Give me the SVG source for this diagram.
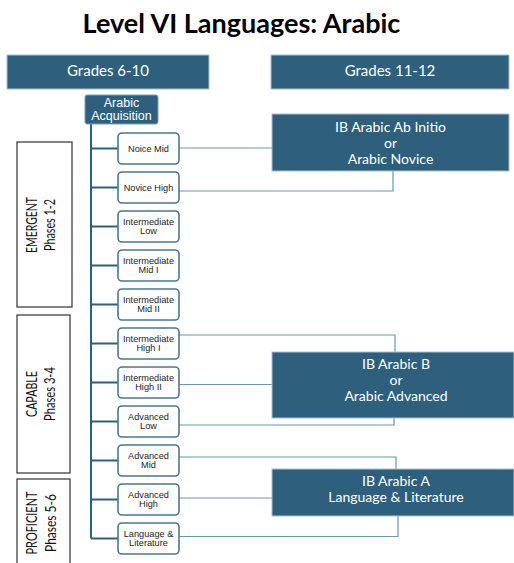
<svg xmlns="http://www.w3.org/2000/svg" width="514" height="563" viewBox="0 0 514 563">
<style>
.title{font-family:Lato,"Open Sans",sans-serif;font-weight:bold;font-size:27px;fill:#000;text-anchor:middle}
.hdr{fill:#2e5f7d;stroke:#a9c1d2;stroke-width:1}
.hdrt{font-family:Lato,"Open Sans",sans-serif;font-size:15px;fill:#fff;text-anchor:middle}
.acq{fill:#2e5f7d;stroke:#7d9fb6;stroke-width:1}
.acqt{font-family:"Liberation Sans",Arial,sans-serif;font-size:12.5px;fill:#fff;text-anchor:middle}
.lvl{fill:#fff;stroke:#4b7594;stroke-width:1.6}
.lvlt{font-family:"Liberation Sans",Arial,sans-serif;font-size:9.2px;fill:#222;text-anchor:middle}
.ph{fill:#fff;stroke:#404040;stroke-width:1.3}
.pht{font-family:Lato,"Open Sans",sans-serif;font-size:15px;fill:#111;text-anchor:middle}
.ib{fill:#2e5f7d;stroke:#a9c1d2;stroke-width:1}
.ibt{font-family:Lato,"Open Sans",sans-serif;font-size:14px;fill:#fff;text-anchor:middle}
.trunk{stroke:#2e5f7d;stroke-width:2;fill:none}
.link{stroke:#6d93ad;stroke-width:1.2;fill:none}
</style>

<text class="title" x="241.5" y="33">Level VI Languages: Arabic</text>

<g id="hdr-grades-6-10"><rect class="hdr" x="7" y="55" width="202" height="34"/><text class="hdrt" x="108" y="75.5">Grades 6-10</text></g>
<g id="hdr-grades-11-12"><rect class="hdr" x="271" y="55" width="238" height="34"/><text class="hdrt" x="390" y="75.5">Grades 11-12</text></g>

<g id="connectors">
  <path class="trunk" d="M91,124 V538.5"/>
  <path class="trunk" d="M91,148.5 H118 M91,187.5 H118 M91,226.5 H118 M91,265.5 H118 M91,304.5 H118 M91,343.5 H118 M91,382.5 H118 M91,421.5 H118 M91,460.5 H118 M91,499.5 H118 M91,538.5 H118"/>
  <path class="link" d="M179,148 H272"/>
  <path class="link" d="M179,191 H393 V171"/>
  <path class="link" d="M179,335 H395 V352"/>
  <path class="link" d="M179,384.5 H272"/>
  <path class="link" d="M179,425 H394 V418"/>
  <path class="link" d="M179,457 H396 V469"/>
  <path class="link" d="M179,498 H272"/>
  <path class="link" d="M179,536.5 H398 V516"/>
</g>

<g id="arabic-acquisition"><rect class="acq" x="85" y="95" width="73" height="29" rx="2"/><text class="acqt" x="121.5" y="107">Arabic</text><text class="acqt" x="121.5" y="120">Acquisition</text></g>

<g id="phase-emergent"><rect class="ph" x="17" y="142" width="55" height="165"/>
<text class="pht" transform="translate(37,225) rotate(-90)" textLength="56" lengthAdjust="spacingAndGlyphs">EMERGENT</text>
<text class="pht" transform="translate(55,225) rotate(-90)" textLength="52" lengthAdjust="spacingAndGlyphs">Phases 1-2</text></g>
<g id="phase-capable"><rect class="ph" x="17" y="315" width="53" height="158"/>
<text class="pht" transform="translate(37,394) rotate(-90)" textLength="46" lengthAdjust="spacingAndGlyphs">CAPABLE</text>
<text class="pht" transform="translate(55,394) rotate(-90)" textLength="54" lengthAdjust="spacingAndGlyphs">Phases 3-4</text></g>
<g id="phase-proficient"><rect class="ph" x="17" y="479" width="53" height="100"/>
<text class="pht" transform="translate(37,523) rotate(-90)" textLength="63" lengthAdjust="spacingAndGlyphs">PROFICIENT</text>
<text class="pht" transform="translate(56,523) rotate(-90)" textLength="58" lengthAdjust="spacingAndGlyphs">Phases 5-6</text></g>

<g id="noice-mid"><rect class="lvl" x="118" y="133" width="61" height="31" rx="4"/><text class="lvlt" x="148.5" y="151.5">Noice Mid</text></g>
<g id="novice-high"><rect class="lvl" x="118" y="172" width="61" height="31" rx="4"/><text class="lvlt" x="148.5" y="190.5">Novice High</text></g>
<g id="intermediate-low"><rect class="lvl" x="118" y="211" width="61" height="31" rx="4"/><text class="lvlt" x="148.5" y="225">Intermediate</text><text class="lvlt" x="148.5" y="233.5">Low</text></g>
<g id="intermediate-mid-1"><rect class="lvl" x="118" y="250" width="61" height="31" rx="4"/><text class="lvlt" x="148.5" y="264">Intermediate</text><text class="lvlt" x="148.5" y="272.5">Mid I</text></g>
<g id="intermediate-mid-2"><rect class="lvl" x="118" y="289" width="61" height="31" rx="4"/><text class="lvlt" x="148.5" y="303">Intermediate</text><text class="lvlt" x="148.5" y="311.5">Mid II</text></g>
<g id="intermediate-high-1"><rect class="lvl" x="118" y="328" width="61" height="31" rx="4"/><text class="lvlt" x="148.5" y="342">Intermediate</text><text class="lvlt" x="148.5" y="350.5">High I</text></g>
<g id="intermediate-high-2"><rect class="lvl" x="118" y="367" width="61" height="31" rx="4"/><text class="lvlt" x="148.5" y="381">Intermediate</text><text class="lvlt" x="148.5" y="389.5">High II</text></g>
<g id="advanced-low"><rect class="lvl" x="118" y="406" width="61" height="31" rx="4"/><text class="lvlt" x="148.5" y="420">Advanced</text><text class="lvlt" x="148.5" y="428.5">Low</text></g>
<g id="advanced-mid"><rect class="lvl" x="118" y="445" width="61" height="31" rx="4"/><text class="lvlt" x="148.5" y="459">Advanced</text><text class="lvlt" x="148.5" y="467.5">Mid</text></g>
<g id="advanced-high"><rect class="lvl" x="118" y="484" width="61" height="31" rx="4"/><text class="lvlt" x="148.5" y="498">Advanced</text><text class="lvlt" x="148.5" y="506.5">High</text></g>
<g id="language-literature"><rect class="lvl" x="118" y="523" width="61" height="31" rx="4"/><text class="lvlt" x="148.5" y="537">Language &amp;</text><text class="lvlt" x="148.5" y="545.5">Literature</text></g>

<g id="ib-ab-initio"><rect class="ib" x="272" y="114" width="237" height="57"/>
<text class="ibt" x="390.5" y="131.5">IB Arabic Ab Initio</text><text class="ibt" x="390.5" y="147.5">or</text><text class="ibt" x="390.5" y="163.5">Arabic Novice</text></g>
<g id="ib-arabic-b"><rect class="ib" x="272" y="352" width="242" height="66"/>
<text class="ibt" x="396" y="368.5">IB Arabic B</text><text class="ibt" x="396" y="384.5">or</text><text class="ibt" x="396" y="400.5">Arabic Advanced</text></g>
<g id="ib-arabic-a"><rect class="ib" x="272" y="469" width="242" height="47"/>
<text class="ibt" x="396" y="485.5">IB Arabic A</text><text class="ibt" x="396" y="502">Language &amp; Literature</text></g>
</svg>
